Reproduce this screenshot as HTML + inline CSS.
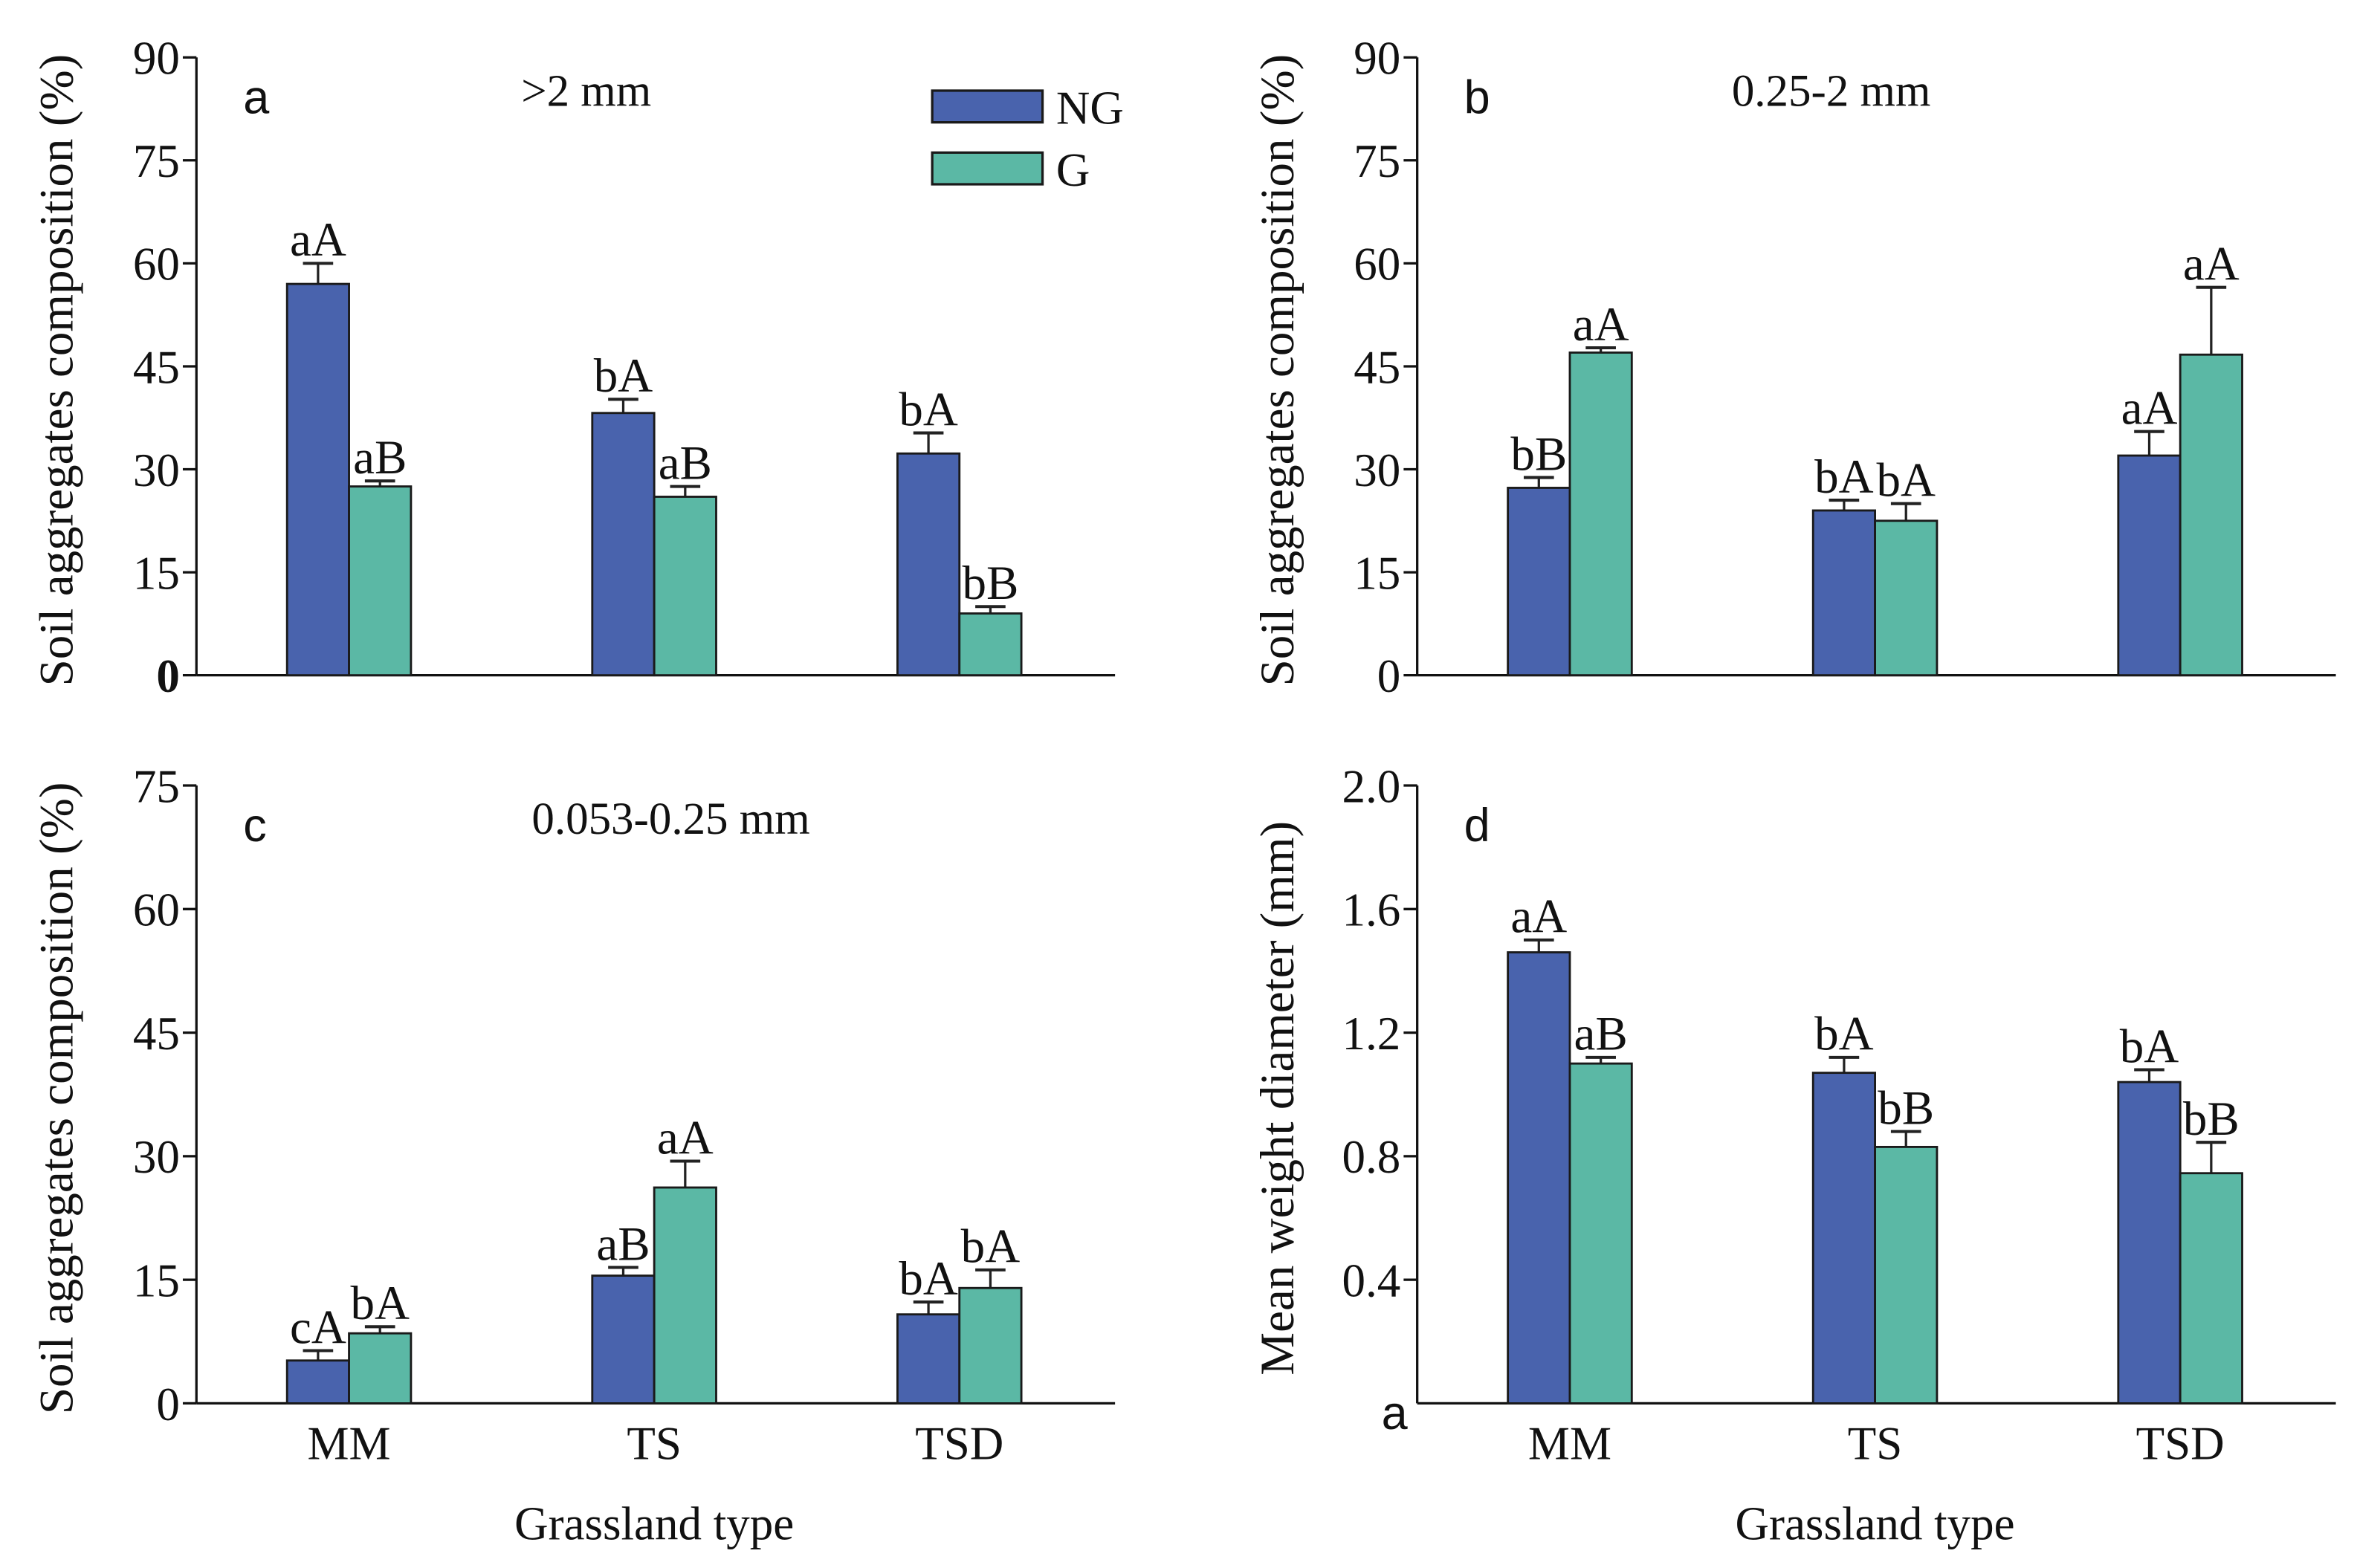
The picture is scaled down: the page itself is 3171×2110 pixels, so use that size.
<!DOCTYPE html>
<html><head><meta charset="utf-8"><style>
html,body{margin:0;padding:0;background:#fff;}
svg{display:block;}
text{font-family:"Liberation Serif",serif;fill:#111;}
.sans{font-family:"Liberation Sans",sans-serif;}
</style></head><body>
<svg id="fig" width="3171" height="2110" viewBox="0 0 1560 1038" preserveAspectRatio="none" xmlns="http://www.w3.org/2000/svg"></svg>
<script>
const categories = ["MM", "TS", "TSD"];
const aNG = [57, 38.2, 32.3];
const aNGerr = [3, 2, 3];
const aG = [27.5, 26, 9];
const aGerr = [0.8, 1.5, 1];
const aNGlab = ["aA", "bA", "bA"];
const aGlab = ["aB", "aB", "bB"];
const bNG = [27.3, 24, 32];
const bNGerr = [1.5, 1.5, 3.5];
const bG = [47, 22.5, 46.7];
const bGerr = [0.7, 2.5, 9.8];
const bNGlab = ["bB", "bA", "aA"];
const bGlab = ["aA", "bA", "aA"];
const cNG = [5.2, 15.5, 10.8];
const cNGerr = [1.2, 1, 1.5];
const cG = [8.5, 26.2, 14];
const cGerr = [0.8, 3.2, 2.2];
const cNGlab = ["cA", "aB", "bA"];
const cGlab = ["bA", "aA", "bA"];
const dNG = [1.46, 1.07, 1.04];
const dNGerr = [0.04, 0.05, 0.04];
const dG = [1.10, 0.83, 0.745];
const dGerr = [0.02, 0.05, 0.10];
const dNGlab = ["aA", "bA", "bA"];
const dGlab = ["aB", "bB", "bB"];
const ticks90 = [0, 15, 30, 45, 60, 75, 90];
const ticks75 = [0, 15, 30, 45, 60, 75];
const ticksD = [0.4, 0.8, 1.2, 1.6, 2.0];
const ticksDlab = ["0.4", "0.8", "1.2", "1.6", "2.0"];

const NS = "http://www.w3.org/2000/svg";
const svg = document.getElementById("fig");
function el(tag, attrs, parent) {
  const e = document.createElementNS(NS, tag);
  for (const k in attrs) e.setAttribute(k, attrs[k]);
  (parent || svg).appendChild(e);
  return e;
}
function txt(s, attrs, parent) { const t = el("text", attrs, parent); t.textContent = s; return t; }

function panel(o) {
  const g = el("g", {});
  
  
  const x0 = o.x0, xEnd = o.x0 + 608, yTop = o.yTop, yBot = o.yTop + 409;
  const ys = v => yBot - (v / o.max) * (yBot - yTop);
  const centers = [o.x0 + 101, o.x0 + 303, o.x0 + 505];
  const bw = 41;
  const ya = el("line", {x1: x0, y1: yTop, x2: x0, y2: yBot, stroke: "#111", "stroke-width": 1.6}, g);
  
  
  const xa = el("line", {x1: x0, y1: yBot, x2: xEnd, y2: yBot, stroke: "#111", "stroke-width": 1.6}, g);
  
  
  o.ticks.forEach((t, i) => {
    const y = ys(t);
    el("line", {x1: x0 - 9, y1: y, x2: x0, y2: y, stroke: "#111", "stroke-width": 1.6}, g);
    const lab = o.tickLabels ? o.tickLabels[i] : String(t);
    const tl = txt(lab, {x: x0 - 11, y: y + 11, "text-anchor": "end", "font-size": 31, "font-weight": (o.boldZero && t === 0) ? "bold" : "normal"}, g);
    
    
  });
  categories.forEach((c, i) => {
    const specs = [
      {v: o.ng[i], e: o.ngErr[i], l: o.ngLab[i], x: centers[i] - bw, fill: "#4963ad", n: "ng"},
      {v: o.g[i], e: o.gErr[i], l: o.gLab[i], x: centers[i], fill: "#5bb8a5", n: "g"}
    ];
    specs.forEach(s => {
      const top = ys(s.v), etop = ys(s.v + s.e), cx = s.x + bw / 2;
      el("line", {x1: cx, y1: top, x2: cx, y2: etop, stroke: "#222", "stroke-width": 1.6}, g);
      el("line", {x1: cx - 10, y1: etop, x2: cx + 10, y2: etop, stroke: "#222", "stroke-width": 2}, g);
      const r = el("rect", {x: s.x, y: top, width: bw, height: yBot - top, fill: s.fill, stroke: "#1a1a1a", "stroke-width": 1.4}, g);
      
      
      const t = txt(s.l, {x: cx, y: etop - 5, "text-anchor": "middle", "font-size": 32}, g);
      
      
    });
    if (o.xlabels) {
      const xl = txt(c, {x: centers[i], y: yBot + 37, "text-anchor": "middle", "font-size": 31}, g);
      
      
    }
  });
  if (o.xlabels) {
    const xt = txt("Grassland type", {x: centers[1], y: yBot + 90, "text-anchor": "middle", "font-size": 31}, g);
    
    
  }
  const yt = txt(o.ytitle, {x: 0, y: 0, "text-anchor": "middle", "font-size": 32, transform: "translate(" + (x0 - 82) + "," + (yTop + 207) + ") rotate(-90)"}, g);
  
  
  const pl = txt(o.id, {x: x0 + 31, y: yTop + 37, "font-size": 31, class: "sans"}, g);
  
  
  if (o.title) {
    const pt = txt(o.title, {x: o.titleX, y: yTop + 32, "text-anchor": "middle", "font-size": 30}, g);
    
    
  }
}

const yT = "Soil aggregates composition (%)";
panel({id: "a", x0: 130, yTop: 38, max: 90, ticks: ticks90, boldZero: true, ng: aNG, ngErr: aNGerr, g: aG, gErr: aGerr, ngLab: aNGlab, gLab: aGlab, ytitle: yT, title: ">2 mm", titleX: 388});
panel({id: "b", x0: 938, yTop: 38, max: 90, ticks: ticks90, ng: bNG, ngErr: bNGerr, g: bG, gErr: bGerr, ngLab: bNGlab, gLab: bGlab, ytitle: yT, title: "0.25-2 mm", titleX: 1212});
panel({id: "c", x0: 130, yTop: 520, max: 75, ticks: ticks75, ng: cNG, ngErr: cNGerr, g: cG, gErr: cGerr, ngLab: cNGlab, gLab: cGlab, ytitle: yT, title: "0.053-0.25 mm", titleX: 444, xlabels: true});
panel({id: "d", x0: 938, yTop: 520, max: 2.0, ticks: ticksD, tickLabels: ticksDlab, ng: dNG, ngErr: dNGerr, g: dG, gErr: dGerr, ngLab: dNGlab, gLab: dGlab, ytitle: "Mean weight diameter (mm)", xlabels: true});
const za = txt("a", {x: 923, y: 946, "text-anchor": "middle", "font-size": 31, class: "sans"});



const lg = el("g", {});


[["NG", "#4963ad", 60], ["G", "#5bb8a5", 101]].forEach(([n, f, y]) => {
  const r = el("rect", {x: 617, y: y, width: 73, height: 21, fill: f, stroke: "#1a1a1a", "stroke-width": 1.6}, lg);
  
  
  const t = txt(n, {x: 699, y: y + 22, "font-size": 31}, lg);
  
  
});
</script>
</body></html>
